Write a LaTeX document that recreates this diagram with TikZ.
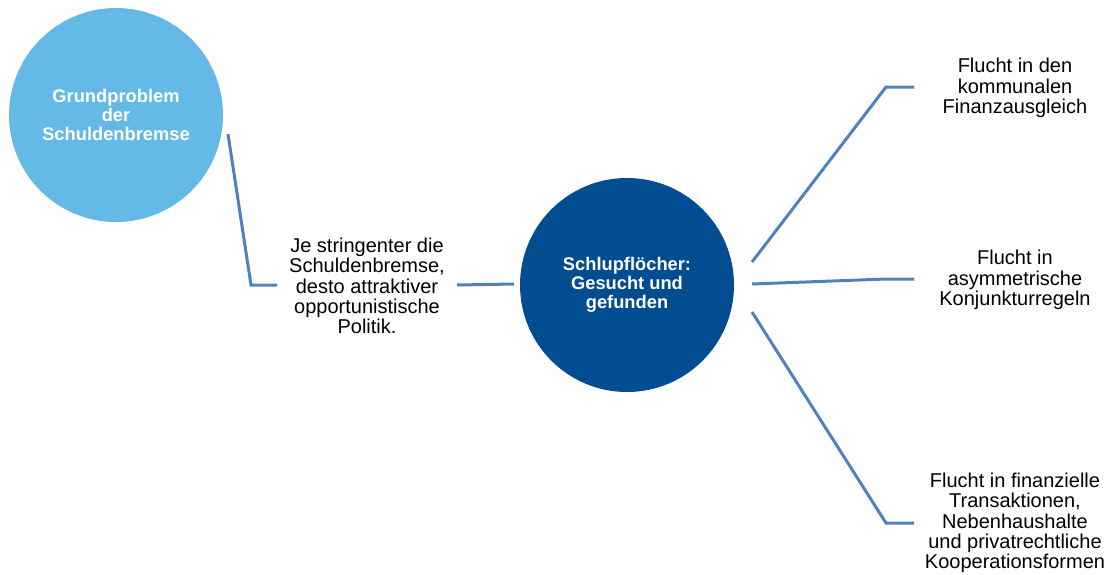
\documentclass[tikz,border=0pt]{standalone}
\usepackage{fontspec}
\setmainfont{Liberation Sans}
\begin{document}
\definecolor{lightblue}{RGB}{101,185,230}
\definecolor{darkblue}{RGB}{2,76,146}
\definecolor{linkblue}{RGB}{79,129,189}
\begin{tikzpicture}[x=1pt,y=-1pt,
  hub/.style={circle,minimum size=214pt,inner sep=0pt,text=white,align=center,
    font=\bfseries\fontsize{18.3}{19}\selectfont},
  label/.style={align=center,inner sep=0pt,font=\fontsize{20}{20.3}\selectfont},
  link/.style={draw=linkblue,line width=3pt}]
\useasboundingbox (0,0) rectangle (1111,574);
% the two circles
\node[hub,fill=lightblue] (grund) at (116,115) {Grundproblem\\der\\Schuldenbremse};
\node[hub,fill=darkblue] (schlupf) at (627,285) {Schlupflöcher:\\Gesucht und\\gefunden};
% text labels
\node[label] (je) at (367,286) {Je stringenter die\\Schuldenbremse,\\desto attraktiver\\opportunistische\\Politik.};
\node[label] (f1) at (1015,88) {Flucht in den\\kommunalen\\Finanzausgleich};
\node[label] (f2) at (1015,280) {Flucht in\\asymmetrische\\Konjunkturregeln};
\node[label] (f3) at (1015,523) {Flucht in finanzielle\\Transaktionen,\\Nebenhaushalte\\und privatrechtliche\\Kooperationsformen};
% connector end points and bends
\coordinate (a0) at (228,134);
\coordinate (a1) at (251,285);
\coordinate (a2) at (277,285);
\coordinate (b0) at (457,285);
\coordinate (b1) at (514,284);
\coordinate (c0) at (752,262);
\coordinate (c1) at (886,87);
\coordinate (c2) at (914,87);
\coordinate (d0) at (752,284);
\coordinate (d1) at (886,279);
\coordinate (d2) at (914,279);
\coordinate (e0) at (752,312);
\coordinate (e1) at (886,523);
\coordinate (e2) at (914,523);
% connectors
\draw[link] (a0) -- (a1) -- (a2);
\draw[link] (b0) -- (b1);
\draw[link] (c0) -- (c1) -- (c2);
\draw[link] (d0) -- (d1) -- (d2);
\draw[link] (e0) -- (e1) -- (e2);
\end{tikzpicture}
\end{document}
